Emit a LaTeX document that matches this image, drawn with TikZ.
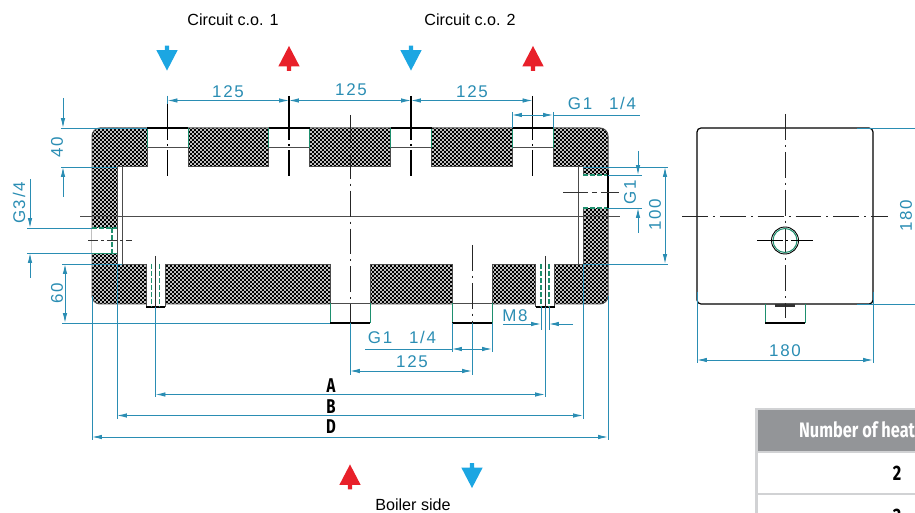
\documentclass[tikz,border=0pt]{standalone}
\usepackage{fontspec}
\usetikzlibrary{arrows.meta,patterns,shapes.arrows}
\setmainfont{Liberation Sans}
\newfontfamily\dimfont[LetterSpace=10]{Liberation Sans}
\newfontfamily\tablefont{Fira Sans}
\definecolor{dimblue}{HTML}{2A8DB3}
\definecolor{portgreen}{HTML}{1E8F6E}
\definecolor{flowblue}{HTML}{1CA6E2}
\definecolor{flowred}{HTML}{E8202A}
\definecolor{headgrey}{HTML}{939598}
\definecolor{rulegrey}{HTML}{D1D2D4}
\pgfdeclarepatternformonly{hatch squares}{\pgfpoint{-0.5bp}{-0.5bp}}{\pgfpoint{4.5bp}{4.5bp}}{\pgfpoint{4bp}{4bp}}{
    \pgfpathrectangle{\pgfpoint{-0.1bp}{-0.1bp}}{\pgfpoint{2.2bp}{2.2bp}}
    \pgfpathrectangle{\pgfpoint{1.9bp}{1.9bp}}{\pgfpoint{2.2bp}{2.2bp}}
    \pgfusepath{fill}
}
\tikzstyle{outline}=[draw = black, line width = 1.2pt]
\tikzstyle{thin part}=[draw = black!70, line width = 1pt]
\tikzstyle{centre line}=[draw = black!85, line width = 0.9pt, dash pattern = on 26pt off 5pt on 2pt off 5pt]
\tikzstyle{port line}=[draw = black, line width = 1.1pt, dash pattern = on 44pt off 4pt on 2pt off 4pt]
\tikzstyle{thread}=[draw = portgreen, line width = 1pt]
\tikzstyle{thread dash}=[draw = portgreen, line width = 1.3pt, dash pattern = on 5pt off 2pt]
\tikzstyle{dim line}=[draw = dimblue, line width = 0.9pt]
\tikzstyle{dim both}=[dim line, {Latex[length=10pt,width=4.5pt]}-{Latex[length=10pt,width=4.5pt]}]
\tikzstyle{dim tip}=[dim line, -{Latex[length=10pt,width=4.5pt]}]
\tikzstyle{dim text}=[text = dimblue, font = \dimfont\fontsize{17}{17}\selectfont, inner sep = 0pt]
\tikzstyle{dim letter}=[font = \tablefont\bfseries\fontsize{20}{20}\selectfont, inner sep = 0pt, xscale = 0.75]
\tikzstyle{table text}=[font = \tablefont\bfseries\fontsize{21}{21}\selectfont, inner sep = 0pt, xscale = 0.78]
\tikzstyle{caption}=[font = \fontsize{16.2}{16.2}\selectfont, inner sep = 0pt]
\tikzstyle{flow}=[single arrow, minimum height = 25pt, minimum width = 21pt, single arrow head extend = 8.5pt, single arrow tip angle = 55, inner sep = 2pt]
\tikzstyle{flow down}=[flow, fill = flowblue, shape border rotate = 270]
\tikzstyle{flow up}=[flow, fill = flowred, shape border rotate = 90]

\begin{document}
\begin{tikzpicture}[x=1bp, y=-1bp]
    \useasboundingbox (0,0) rectangle (915,513);
    \clip (0,0) rectangle (915,513);

    % insulation block
    \fill[white, rounded corners=8pt] (92,128) rectangle (608,304);
    \fill[pattern=hatch squares, pattern color=black, rounded corners=8pt] (92,128) rectangle (608,304);
    \draw[thin part, rounded corners=8pt] (92,128) rectangle (608,304);

    % tube
    \fill[white] (117,167) rectangle (583,264);
    \draw[thin part] (117,167) rectangle (122,264);
    \draw[thin part] (578,167) rectangle (583,264);
    \draw[thin part] (122,167) -- (578,167);
    \draw[thin part] (122,264) -- (578,264);

    % upper ports
    \foreach \x in {167.5,289,411,532.5} {
        \fill[white] (\x-20.5,128) rectangle (\x+20.5,167);
        \draw[thin part] (\x-20.5,148) -- (\x+20.5,148);
        \draw[thin part] (\x-20.5,148) -- (\x-20.5,167);
        \draw[thin part] (\x+20.5,148) -- (\x+20.5,167);
        \draw[thread] (\x-20.5,128) -- (\x-20.5,148);
        \draw[thread] (\x+20.5,128) -- (\x+20.5,148);
        \draw[outline] (\x-20.5,128) -- (\x+20.5,128);
        \draw[port line] (\x,96) -- (\x,176);
    }

    % lower ports
    \foreach \x in {350,472} {
        \fill[white] (\x-20,264) rectangle (\x+20,323);
        \draw[thin part] (\x-20,264) -- (\x-20,303);
        \draw[thin part] (\x+20,264) -- (\x+20,303);
        \draw[thin part] (\x-20,303) -- (\x+20,303);
        \draw[thread] (\x-20,303) -- (\x-20,323);
        \draw[thread] (\x+20,303) -- (\x+20,323);
        \draw[outline] (\x-20,323) -- (\x+20,323);
    }

    % bolts
    \foreach \x in {155.5,545} {
        \fill[white] (\x-9.5,264) rectangle (\x+9.5,307);
        \draw[thin part] (\x-9.5,264) -- (\x-9.5,307);
        \draw[thin part] (\x+9.5,264) -- (\x+9.5,307);
        \draw[outline] (\x-9.5,307) -- (\x+9.5,307);
        \draw[thread dash] (\x-4,264) -- (\x-4,307);
        \draw[thread dash] (\x+4,264) -- (\x+4,307);
        \draw[black!80, line width=0.8pt] (\x,256) -- (\x,307);
    }

    % side ports
    \fill[white] (92,228) rectangle (117,253);
    \draw[thread dash] (92,228) -- (117,228);
    \draw[thread] (92,253) -- (117,253);
    \draw[thread dash] (112,228) -- (112,253);
    \draw[thin part] (117,228) -- (117,253);
    \draw[black!80, line width=0.8pt, dash pattern=on 10pt off 3pt on 3pt off 3pt] (88,240.5) -- (132,240.5);
    \fill[white] (583,175) rectangle (608,208);
    \draw[thread dash] (583,175) -- (608,175);
    \draw[thread dash] (583,208) -- (608,208);
    \draw[outline] (608,170) -- (608,208);
    \draw[black!80, line width=0.8pt, dash pattern=on 25pt off 4pt on 5pt off 4pt] (563,192) -- (619,192);

    % centre lines
    \draw[black!70, line width=0.9pt] (80,216) -- (620,216);
    \draw[centre line] (350,115) -- (350,323);
    \draw[centre line] (472,245) -- (472,323);

    % end view
    \draw[outline, rounded corners=4pt] (697,128) rectangle (873,304);
    \draw[thread] (765,304) -- (765,323);
    \draw[thread] (805,304) -- (805,323);
    \draw[outline] (765,323) -- (805,323);
    \fill[black!80] (775,304) rectangle (795,307);
    \draw[centre line] (785,114) -- (785,318);
    \draw[centre line] (682,216) -- (888,216);
    \draw[black, line width=0.9pt] (785,240.5) circle (13.5);
    \draw[thread] (785,240.5) circle (12);
    \draw[black, line width=0.9pt, dash pattern=on 26pt off 3pt on 2pt off 3pt] (757,240.5) -- (813,240.5);

    % dimensions, top
    \draw[dim line] (167.5,96) -- (167.5,104);
    \draw[dim both] (167.5,100.5) -- (289,100.5);
    \draw[dim both] (289,100.5) -- (411,100.5);
    \draw[dim both] (411,100.5) -- (532.5,100.5);
    \node[dim text] (top 1) at (228,92) {125};
    \node[dim text] (top 2) at (351,90) {125};
    \node[dim text] (top 3) at (472,92) {125};
    \draw[dim line] (512,112) -- (512,128);
    \draw[dim line] (553,112) -- (553,128);
    \draw[dim both] (512,115) -- (553,115);
    \draw[dim line] (553,115) -- (640,115);
    \node[dim text] (port top) at (602,103) {G1\hspace{1em}1/4};

    % dimensions, left
    \draw[dim line] (61,128) -- (147,128);
    \draw[dim line] (61,167) -- (117,167);
    \draw[dim tip] (63,98) -- (63,128);
    \draw[dim tip] (63,197) -- (63,167);
    \node[dim text, rotate=90] (depth) at (57,147) {40};
    \draw[dim line] (27,228) -- (92,228);
    \draw[dim line] (27,253) -- (92,253);
    \draw[dim tip] (30,179) -- (30,228);
    \draw[dim tip] (30,278) -- (30,253);
    \node[dim text, rotate=90] (port left) at (19,203) {G3/4};
    \draw[dim line] (62,264) -- (122,264);
    \draw[dim line] (62,323) -- (330,323);
    \draw[dim both] (65,264) -- (65,323);
    \node[dim text, rotate=90] (lower) at (57,293) {60};

    % dimensions, right
    \draw[dim line] (583,167) -- (668,167);
    \draw[dim line] (583,264) -- (668,264);
    \draw[dim both] (665,167) -- (665,264);
    \node[dim text, rotate=90] (tube) at (655,215) {100};
    \draw[dim line] (608,175) -- (642,175);
    \draw[dim line] (608,208) -- (642,208);
    \draw[dim tip] (638,151) -- (638,175);
    \draw[dim tip] (638,233) -- (638,208);
    \node[dim text, rotate=90] (port right) at (630,192) {G1};

    % dimensions, below
    \draw[dim line] (350,323) -- (350,375);
    \draw[dim line] (472,323) -- (472,375);
    \draw[dim both] (350,371) -- (472,371);
    \node[dim text] (bottom) at (412,362) {125};
    \draw[dim line] (452,323) -- (452,352);
    \draw[dim line] (492,323) -- (492,352);
    \draw[dim both] (452,349) -- (492,349);
    \draw[dim line] (365,349) -- (452,349);
    \node[dim text] (port bottom) at (402,337) {G1\hspace{1em}1/4};
    \draw[dim line] (541,307) -- (541,330);
    \draw[dim line] (549,307) -- (549,330);
    \draw[dim tip] (503,324) -- (541,324);
    \draw[dim tip] (573,324) -- (549,324);
    \node[dim text] (bolt) at (515,316) {M8};

    \draw[dim line] (155.5,307) -- (155.5,397);
    \draw[dim line] (545,307) -- (545,397);
    \draw[dim line] (117,264) -- (117,419);
    \draw[dim line] (583,264) -- (583,419);
    \draw[dim line] (92,296) -- (92,440);
    \draw[dim line] (608,296) -- (608,440);
    \draw[dim both] (155.5,394.5) -- (545,394.5);
    \draw[dim both] (117,415.5) -- (583,415.5);
    \draw[dim both] (92,437) -- (608,437);
    \node[dim letter] (A) at (331,386) {A};
    \node[dim letter] (B) at (331,407) {B};
    \node[dim letter] (D) at (331,427) {D};

    % dimensions, end view
    \draw[dim line] (697,292) -- (697,363);
    \draw[dim line] (873,292) -- (873,363);
    \draw[dim both] (697,360) -- (873,360);
    \node[dim text] (width) at (785,351) {180};
    \draw[dim line] (857,128) -- (915,128);
    \draw[dim line] (857,304) -- (915,304);
    \node[dim text, rotate=90] (height) at (906,216) {180};

    % circuits
    \node[caption] (circuit 1) at (233,20) {Circuit c.o. 1};
    \node[caption] (circuit 2) at (470,20) {Circuit c.o. 2};
    \node[caption] (boiler) at (413,505) {Boiler side};
    \node[flow down] (flow 1) at (167,56) {};
    \node[flow up] (flow 2) at (289,60.5) {};
    \node[flow down] (flow 3) at (411,56) {};
    \node[flow up] (flow 4) at (533,60.5) {};
    \node[flow up] (flow 5) at (350,479) {};
    \node[flow down] (flow 6) at (472,473.5) {};

    % table
    \fill[headgrey] (757,409) rectangle (915,451);
    \draw[rulegrey, line width=3pt] (915,409) -- (756.5,409) -- (756.5,513);
    \draw[rulegrey, line width=3pt] (757,452) -- (915,452);
    \draw[rulegrey, line width=3pt] (757,494) -- (915,494);
    \node[table text, text=white, anchor=west] (heading) at (799,430) {Number of heat};
    \node[table text] (row 1) at (897,473) {2};
    \node[table text] (row 2) at (897,516) {3};
\end{tikzpicture}
\end{document}
